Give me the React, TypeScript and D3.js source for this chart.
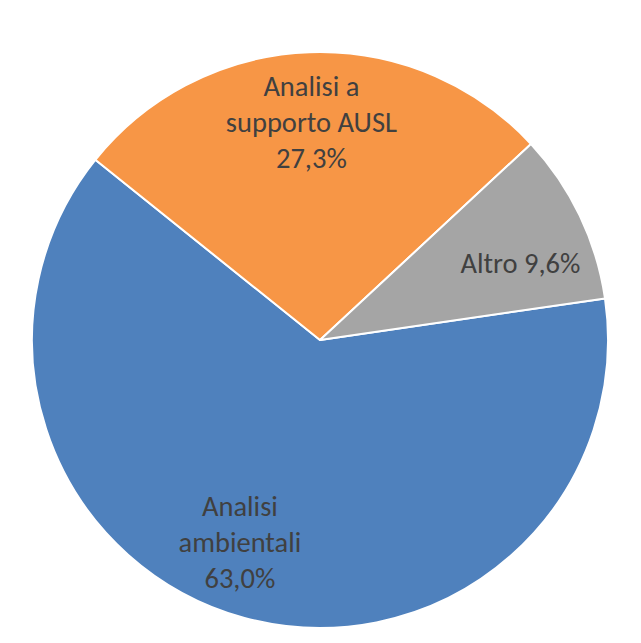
import React from "react";
import * as d3 from "d3";

const categories = ["Analisi ambientali", "Analisi a supporto AUSL", "Altro"];
const values = [63.0, 27.3, 9.6];
const labelLines = [
  ["Analisi", "ambientali", "63,0%"],
  ["Analisi a", "supporto AUSL", "27,3%"],
  ["Altro 9,6%"],
];

const colors = ["#4F81BD", "#F79646", "#A5A5A5"];
const labelNudge = [
  [-25, 9],
  [-1, 2],
  [11, 24],
];

const W = 641;
const H = 643;
const CX = 320;
const CY = 340;
const R = 288;
const FIRST_ANGLE = (81.7 * Math.PI) / 180;

export default function App() {
  const pie = d3
    .pie<number>()
    .sort(null)
    .value((d) => d)
    .startAngle(FIRST_ANGLE)
    .endAngle(FIRST_ANGLE + 2 * Math.PI);
  const arcs = pie(values);
  const arc = d3.arc<d3.PieArcDatum<number>>().innerRadius(0).outerRadius(R);
  const labelArc = d3.arc<d3.PieArcDatum<number>>().innerRadius(210).outerRadius(210);
  const lineH = 36;

  return (
    <div style={{ position: "absolute", left: 0, top: 0, width: W, height: H, background: "#fff" }}>
      <svg width={W} height={H} style={{ display: "block" }}>
        <rect width={W} height={H} fill="#fff" />
        <g transform={`translate(${CX},${CY})`}>
          {arcs.map((a, i) => (
            <path key={categories[i]} d={arc(a) || ""} fill={colors[i]} stroke="#fff" strokeWidth={2} strokeLinejoin="round" />
          ))}
          {arcs.map((a, i) => {
            const [x, y] = labelArc.centroid(a);
            const lines = labelLines[i];
            const lx = x + labelNudge[i][0];
            const ly = y + labelNudge[i][1];
            const offset = ((lines.length - 1) / 2) * lineH;
            return (
              <text
                key={"l" + i}
                x={lx}
                y={ly}
                textAnchor="middle"
                fill="#404040"
                style={{ fontFamily: "Carlito, Lato, sans-serif", fontSize: 28.5 }}
              >
                {lines.map((ln, j) => (
                  <tspan key={j} x={lx} y={ly - offset + j * lineH}>
                    {ln}
                  </tspan>
                ))}
              </text>
            );
          })}
        </g>
      </svg>
    </div>
  );
}
